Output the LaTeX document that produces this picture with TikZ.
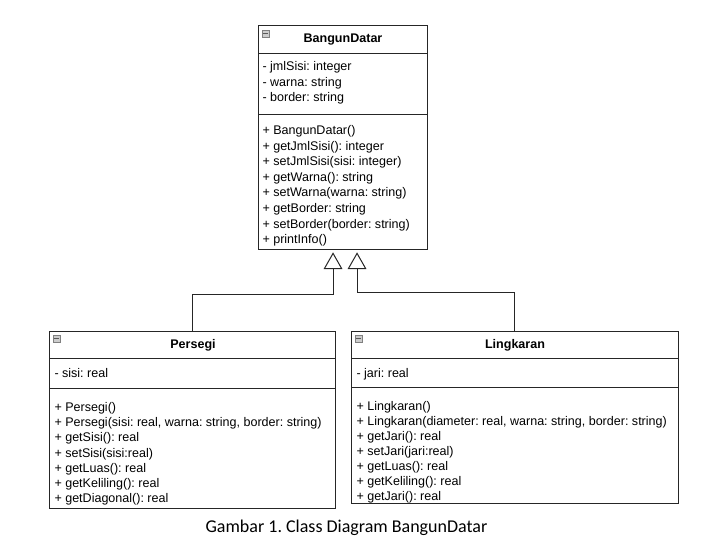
\documentclass[tikz,border=0pt]{standalone}
\usepackage{fontspec}
\setmainfont{Liberation Sans}
\newfontfamily\capfont{Carlito}
\usetikzlibrary{arrows.meta}
\frenchspacing
\begin{document}
\begin{tikzpicture}[x=0.75pt,y=-0.75pt, line width=0.75pt,
  box/.style={draw=black!85, anchor=north west, inner sep=0pt, outer sep=0pt},
  txt/.style={anchor=north west, inner sep=0pt, align=left, font=\fontsize{9.4}{11.6}\selectfont},
  ttl/.style={inner sep=0pt, font=\fontsize{9.4}{11.6}\selectfont\bfseries},
  icon/.style={draw=black!50, fill=black!20, line width=0.6pt, minimum width=5.2pt, minimum height=5.2pt, inner sep=0pt,
    path picture={\draw[black!65, line width=0.9pt] ([xshift=0.9pt]path picture bounding box.west) -- ([xshift=-0.9pt]path picture bounding box.east);}},
  inh/.style={draw=black!85, -{Triangle[open,length=12.5pt,width=14pt,line width=0.75pt]}, shorten >=2.5pt},
]
\useasboundingbox (0,0) rectangle (713,547);

% BangunDatar
\node[box, minimum width=126.75pt, minimum height=21pt] (bdt) at (258,25) {};
\node[box, minimum width=126.75pt, minimum height=45.75pt] (bda) at (258,53) {};
\node[box, minimum width=126.75pt, minimum height=101.25pt] (bdm) at (258,114) {};
\node[icon] (bdi) at (265.5,33.5) {};
\node[ttl] (bdn) at (343,40) {BangunDatar};
\node[txt] (bdat) at (262,61) {- jmlSisi: integer\\- warna: string\\- border: string};
\node[txt, font=\fontsize{9.4}{11.7}\selectfont] (bdmt) at (262,125) {+ BangunDatar()\\+ getJmlSisi(): integer\\+ setJmlSisi(sisi: integer)\\+ getWarna(): string\\+ setWarna(warna: string)\\+ getBorder: string\\+ setBorder(border: string)\\+ printInfo()};

% Persegi
\node[box, minimum width=214.5pt, minimum height=20.25pt] (pt) at (49,331) {};
\node[box, minimum width=214.5pt, minimum height=22.5pt] (pa) at (49,358) {};
\node[box, minimum width=214.5pt, minimum height=90pt] (pm) at (49,388) {};
\node[icon] (pi) at (56.5,338.5) {};
\node[ttl] (pn) at (193,345) {Persegi};
\node[txt] (pat) at (54,368) {- sisi: real};
\node[txt, font=\fontsize{9.4}{11.4}\selectfont] (pmt) at (54,402) {+ Persegi()\\+ Persegi(sisi: real, warna: string, border: string)\\+ getSisi(): real\\+ setSisi(sisi:real)\\+ getLuas(): real\\+ getKeliling(): real\\+ getDiagonal(): real};

% Lingkaran
\node[box, minimum width=245.25pt, minimum height=20.25pt] (lt) at (351,331) {};
\node[box, minimum width=245.25pt, minimum height=21.75pt] (la) at (351,358) {};
\node[box, minimum width=245.25pt, minimum height=87pt] (lm) at (351,387) {};
\node[icon] (li) at (358.5,338.5) {};
\node[ttl] (ln) at (515,345) {Lingkaran};
\node[txt] (lat) at (356,368) {- jari: real};
\node[txt, font=\fontsize{9.4}{11.25}\selectfont] (lmt) at (356,401) {+ Lingkaran()\\+ Lingkaran(diameter: real, warna: string, border: string)\\+ getJari(): real\\+ setJari(jari:real)\\+ getLuas(): real\\+ getKeliling(): real\\+ getJari(): real};

% Inheritance
\draw[inh] (pt.north) |- ([xshift=-7.1pt, yshift=-33.75pt]bdm.south) -- ([xshift=-7.1pt]bdm.south);
\draw[inh] (lt.north) |- ([xshift=10.9pt, yshift=-32.25pt]bdm.south) -- ([xshift=10.9pt]bdm.south);

% Caption
\node[inner sep=0pt, font=\capfont\fontsize{13.5}{16}\selectfont] (cap) at (346.5,528) {Gambar 1. Class Diagram BangunDatar};
\end{tikzpicture}
\end{document}
